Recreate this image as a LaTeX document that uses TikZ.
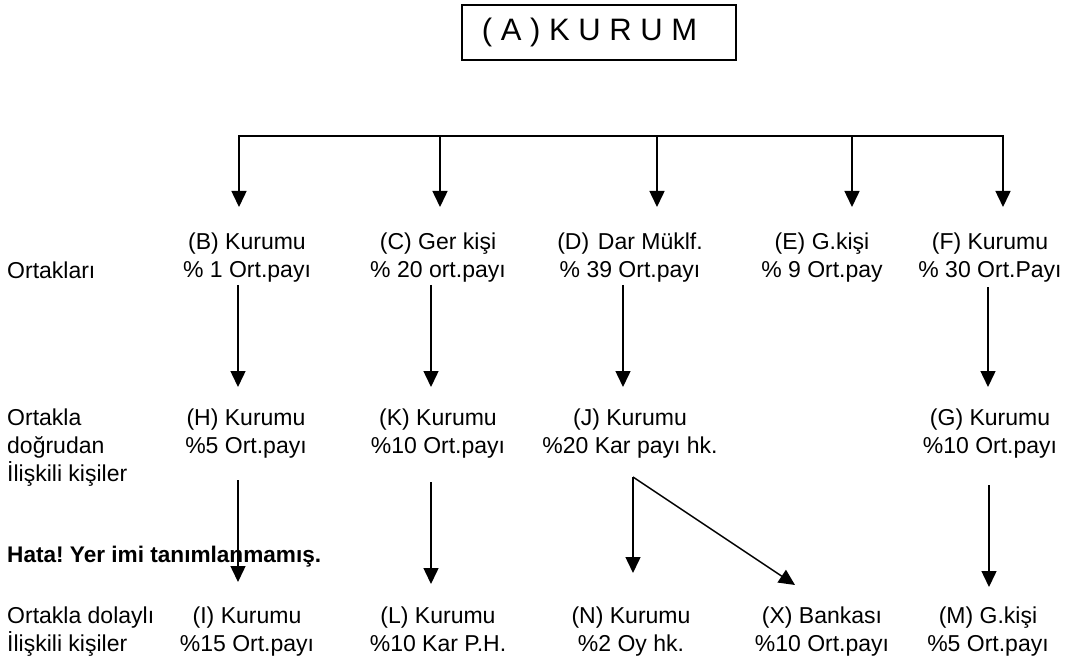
\documentclass[tikz,border=0pt]{standalone}
\usepackage{fontspec}
\setmainfont{Liberation Sans}
\usetikzlibrary{arrows.meta,calc}
\frenchspacing
\begin{document}
\begin{tikzpicture}[x=1pt,y=-1pt,
  txt/.style={align=center, inner sep=0pt, font=\fontsize{23}{28}\selectfont},
  lbl/.style={align=left, anchor=west, inner sep=0pt, font=\fontsize{23}{28}\selectfont},
  ln/.style={line width=1.5pt, line cap=rect},
  arr/.style={line width=1.5pt, -{Triangle[width=15pt,length=16pt]}}]
\useasboundingbox (0,0) rectangle (1065,660);

% top box
\node[draw, line width=1.5pt, minimum width=274pt, minimum height=55pt, inner sep=0pt,
      font=\fontsize{31}{36}\selectfont] (A) at (599,32.5) {( A ) K U R U M\hspace*{19pt}};

% row labels
\node[lbl] (l1) at (7,270) {Ortakları};
\node[lbl] (l2) at (7,448) {Ortakla\\doğrudan\\İlişkili kişiler};
\node[lbl, font=\fontsize{22.6}{28}\selectfont\bfseries] (l3) at (7,557) {Hata! Yer imi tanımlanmamış.};
\node[lbl] (l4) at (7,631.5) {Ortakla dolaylı\\İlişkili kişiler};

% row 1
\node[txt] (B) at (247,257.5) {(B) Kurumu\\\% 1 Ort.payı};
\node[txt] (C) at (438,257.5) {(C) Ger kişi\\\% 20 ort.payı};
\node[txt] (D) at (630,257.5) {(D)\hspace{0.38em}Dar Müklf.\\\% 39 Ort.payı};
\node[txt] (E) at (822,257.5) {(E) G.kişi\\\% 9 Ort.pay};
\node[txt] (F) at (990,257.5) {(F) Kurumu\\\% 30 Ort.Payı};

% row 2
\node[txt] (H) at (246,434) {(H) Kurumu\\\%5 Ort.payı};
\node[txt] (K) at (438,434) {(K) Kurumu\\\%10 Ort.payı};
\node[txt] (J) at (630,434) {(J) Kurumu\\\%20 Kar payı hk.};
\node[txt] (G) at (990,434) {(G) Kurumu\\\%10 Ort.payı};

% row 3
\node[txt] (I) at (247,631.5) {(I) Kurumu\\\%15 Ort.payı};
\node[txt] (L) at (438,631.5) {(L) Kurumu\\\%10 Kar P.H.\vphantom{y}};
\node[txt] (N) at (631,631.5) {(N) Kurumu\\\%2 Oy hk.};
\node[txt] (X) at (822,631.5) {(X) Bankası\\\%10 Ort.payı};
\node[txt] (M) at (988,631.5) {(M) G.kişi\\\%5 Ort.payı};

% bus
\coordinate (busB) at ($(B)+(-8,-121.5)$);
\coordinate (busC) at ($(C)+(2,-121.5)$);
\coordinate (busD) at ($(D)+(27,-121.5)$);
\coordinate (busE) at ($(E)+(30,-121.5)$);
\coordinate (busF) at ($(F)+(13,-121.5)$);
\draw[ln] (busB) -- (busF);
\draw[arr] (busB) -- ($(B)+(-8,-50.5)$);
\draw[arr] (busC) -- ($(C)+(2,-50.5)$);
\draw[arr] (busD) -- ($(D)+(27,-50.5)$);
\draw[arr] (busE) -- ($(E)+(30,-50.5)$);
\draw[arr] (busF) -- ($(F)+(13,-50.5)$);

% row 1 -> row 2
\draw[arr] ($(B)+(-9,27.5)$) -- ($(H)+(-8,-47)$);
\draw[arr] ($(C)+(-7,27.5)$) -- ($(K)+(-7,-47)$);
\draw[arr] ($(D)+(-7,27.5)$) -- ($(J)+(-7,-47)$);
\draw[arr] ($(F)+(-2,29.5)$) -- ($(G)+(-2,-47)$);

% row 2 -> row 3
\draw[arr] ($(H)+(-8,46)$) -- ($(I)+(-9,-49.5)$);
\draw[arr] ($(K)+(-7,48)$) -- ($(L)+(-7,-47.5)$);
\coordinate (jc) at ($(J)+(3,43)$);
\draw[arr] (jc) -- ($(N)+(2,-58.5)$);
\draw[arr] (jc) -- ($(X)+(-27,-46.5)$);
\draw[arr] ($(G)+(-1,51)$) -- ($(M)+(1,-44.5)$);
\end{tikzpicture}
\end{document}
